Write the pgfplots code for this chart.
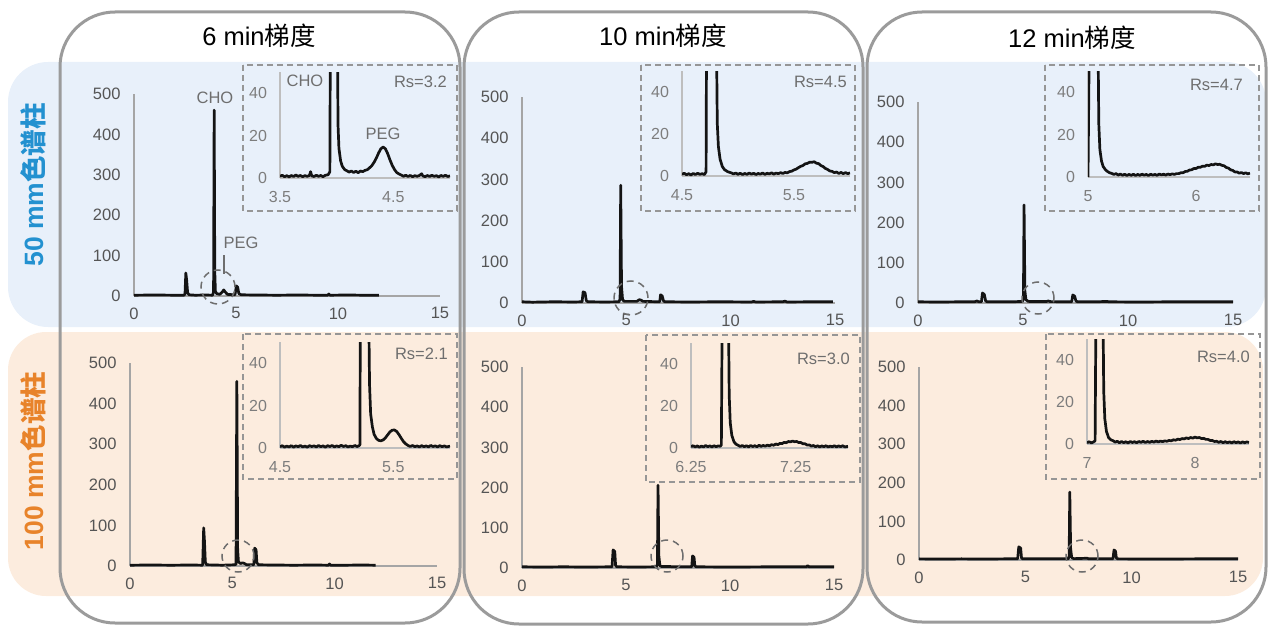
\documentclass[border=0pt]{standalone}
\usepackage{fontspec}
\setmainfont{Liberation Sans}
\newfontfamily\cjk{Noto Sans CJK SC}
\usepackage{pgfplots}
\pgfplotsset{compat=1.18}
\definecolor{bandblue}{RGB}{232,240,250}
\definecolor{bandorange}{RGB}{252,236,222}
\definecolor{panelgray}{RGB}{155,155,155}
\definecolor{rowblue}{RGB}{35,145,208}
\definecolor{roworange}{RGB}{232,131,42}
\definecolor{trace}{RGB}{20,20,20}
\definecolor{mainaxis}{RGB}{165,165,165}
\definecolor{inaxis}{RGB}{190,190,190}
\definecolor{maintick}{RGB}{85,85,85}
\definecolor{intick}{RGB}{125,125,125}
\definecolor{boxgray}{RGB}{150,150,150}
\definecolor{lbl}{RGB}{110,110,110}
\pgfplotsset{
  base/.style={scale only axis, anchor=south west, axis lines=left,
    enlargelimits=false, major tick length=0pt,
    /pgf/number format/assume math mode=true,
    cycle list={{trace, line width=2.7pt, line join=round, mark=none}},
  },
  mainax/.style={base, clip=false, xmin=0,xmax=15,ymin=0,ymax=500,
    xtick={0,5,10,15}, ytick={0,100,200,300,400,500},
    axis line style={draw=mainaxis, line width=1.3pt, -},
    tick label style={font=\fontsize{16.5}{18}\selectfont, text=maintick},
    x tick label style={yshift=-8pt}, y tick label style={xshift=-10pt}},
  inax/.style={base, ymin=0,ymax=50, ytick={0,20,40},
    axis line style={draw=inaxis, line width=1.2pt, -},
    tick label style={font=\fontsize{16}{18}\selectfont, text=intick},
    x tick label style={yshift=-9.5pt}, y tick label style={xshift=-9.5pt}},
}
\tikzset{
  circ/.style={draw=lbl, line width=1.5pt, dash pattern=on 7pt off 5pt},
  dbox/.style={draw=boxgray, line width=1.8pt, dash pattern=on 6pt off 4pt},
  rs/.style={inner sep=0pt, anchor=east, text=lbl, font=\fontsize{16.5}{18}\selectfont},
  lab/.style={inner sep=0pt, text=lbl, font=\fontsize{16.5}{18}\selectfont},
  tr/.style={draw=trace, line width=2.7pt, line join=round, mark=none},
}
\begin{document}
\begin{tikzpicture}
\useasboundingbox (0,0) rectangle (1270pt,-626pt);
% bands
\fill[bandblue, rounded corners=40pt] (8pt,-62pt) rectangle (1266pt,-327pt);
\fill[bandorange, rounded corners=38pt] (8pt,-332pt) rectangle (1263pt,-596pt);
% panels
\draw[panelgray, line width=3pt, rounded corners=55pt] (60pt,-12pt) rectangle (460pt,-623pt);
\draw[panelgray, line width=3pt, rounded corners=55pt] (464pt,-12pt) rectangle (863pt,-624pt);
\draw[panelgray, line width=3pt, rounded corners=55pt] (867pt,-12pt) rectangle (1266pt,-622pt);
% titles
\node[font=\fontsize{25.5}{28}\selectfont] at (259pt,-36pt) {6 min{\cjk 梯度}};
\node[font=\fontsize{25.5}{28}\selectfont] at (663pt,-36pt) {10 min{\cjk 梯度}};
\node[font=\fontsize{25.5}{28}\selectfont] at (1072pt,-38pt) {12 min{\cjk 梯度}};
% row labels
\node[rotate=90, font=\fontsize{26.5}{30}\selectfont\bfseries, text=rowblue] at (33pt,-185pt) {50 mm{\cjk\bfseries 色谱柱}};
\node[rotate=90, font=\fontsize{26.5}{30}\selectfont\bfseries, text=roworange] at (33pt,-461pt) {100 mm{\cjk\bfseries 色谱柱}};
% inset boxes
\draw[dbox] (243pt,-65pt) rectangle (457pt,-211pt);
\draw[dbox] (243pt,-334pt) rectangle (457pt,-479pt);
\draw[dbox] (641pt,-65pt) rectangle (855pt,-211pt);
\draw[dbox] (646pt,-335pt) rectangle (860pt,-482pt);
\draw[dbox] (1045pt,-65pt) rectangle (1259pt,-211pt);
\draw[dbox] (1046pt,-334pt) rectangle (1260pt,-479pt);

% ===== P1 top: 6 min, 50 mm
\begin{axis}[mainax, at={(134pt,-296pt)}, width=306pt, height=202pt]
\addplot[tr] coordinates {(0,2) (1.0,2.5) (2.0,2) (2.45,2) (2.5,5) (2.54,57) (2.58,40) (2.63,8) (2.7,3) (3.0,2) (3.5,2.5) (3.85,2) (3.9,10) (3.93,460) (3.96,60) (3.99,12) (4.05,6) (4.2,4) (4.33,10) (4.4,15) (4.47,10) (4.58,4) (4.95,3) (5.02,25) (5.08,22) (5.14,6) (5.25,3) (6,2.5) (7,2) (8,2.5) (9,2) (9.5,2) (9.55,5) (9.6,2) (10.5,2.5) (11.2,2) (12,2)};
\end{axis}
% ===== P1 bottom: 6 min, 100 mm
\begin{axis}[mainax, at={(130pt,-566pt)}, width=307pt, height=203pt]
\addplot[tr] coordinates {(0,2) (1,2.5) (2,2) (3,2.5) (3.55,2) (3.6,94) (3.64,60) (3.68,10) (3.74,3) (4.5,2) (5.1,3) (5.18,4) (5.22,455) (5.26,40) (5.3,10) (5.4,6) (5.5,8) (5.6,6) (5.7,3) (6.05,3) (6.09,44) (6.16,40) (6.2,8) (6.28,3) (7,2.5) (8,2) (9,2.5) (9.7,2) (9.75,5) (9.8,2) (10.5,2) (11.3,2.5) (12,2)};
\end{axis}
% ===== P2 top
\begin{axis}[mainax, at={(522pt,-303pt)}, width=313pt, height=206pt]
\addplot[tr] coordinates {(0,3)(0.5,2)(1.5,3)(2.5,2.5)(2.88,3)(2.93,27)(3.02,25)(3.08,6)(3.15,3)(4,2.5)(4.65,3)(4.7,10)(4.73,286)(4.77,40)(4.82,8)(4.9,4)(5.5,4)(5.62,8)(5.7,7)(5.8,4)(6.5,3)(6.6,3)(6.64,20)(6.72,17)(6.78,5)(6.85,3)(8,2.5)(9.5,3)(11,2.5)(11.1,4)(11.2,2.5)(12.5,3)(12.6,4.5)(12.7,2.5)(14,3)(14.9,3)};
\end{axis}
% ===== P2 bottom
\begin{axis}[mainax, at={(522pt,-568pt)}, width=312pt, height=201pt]
\addplot[tr] coordinates {(0,3)(1,2.5)(2,3)(3,2.5)(4.33,3)(4.38,45)(4.46,41)(4.5,6)(4.56,3)(5.5,2.5)(6.47,3)(6.51,10)(6.54,206)(6.58,30)(6.63,6)(6.72,3.5)(7.1,4)(7.2,3)(8.16,3)(8.2,30)(8.27,27)(8.31,5)(8.38,3)(10,2.5)(12,3)(13.68,3)(13.73,6)(13.8,3)(15,3)};
\end{axis}
% ===== P3 top
\begin{axis}[mainax, at={(918pt,-303pt)}, width=315pt, height=201pt]
\addplot[tr] coordinates {(0,3)(1,2.5)(2,3)(2.7,3)(2.8,5)(2.9,3)(3.02,3)(3.07,25)(3.16,21)(3.22,5)(3.3,3)(4.5,3)(4.98,4)(5.02,10)(5.05,244)(5.09,30)(5.14,8)(5.25,4)(6.1,3.5)(6.2,5)(6.3,3.5)(7.32,3)(7.37,20)(7.46,17)(7.52,5)(7.6,3)(8.5,3)(9,4)(9.1,3)(10.5,2.5)(12,3)(13.5,3)(15,3)};
\end{axis}
% ===== P3 bottom
\begin{axis}[mainax, at={(919pt,-560pt)}, width=319pt, height=193pt]
\addplot[tr] coordinates {(0,3)(1,2.5)(2,3)(3,2.5)(4,3)(4.64,3)(4.69,34)(4.78,31)(4.82,5)(4.88,3)(6,3)(7.02,3)(7.06,10)(7.09,176)(7.13,30)(7.18,6)(7.28,3.5)(7.9,4.5)(8.0,3)(9.12,3)(9.17,26)(9.24,23)(9.28,5)(9.35,3)(11,2.5)(13,3)(15,3)};
\end{axis}

% ===== Insets
\begin{axis}[inax, at={(280pt,-178pt)}, width=170pt, height=106pt, xmin=3.5, xmax=5.0, xtick={3.5,4.5}, xticklabels={3.5,4.5}]
\addplot[tr] coordinates {(3.50,0.8)(3.52,1.3)(3.54,0.6)(3.56,1.1)(3.58,0.5)(3.60,1.2)(3.62,0.7)(3.64,1.4)(3.66,0.8)(3.68,1.2)(3.70,0.6)(3.72,1.1)(3.74,0.8)(3.76,1.2)(3.77,3.0)(3.78,1.0)(3.80,0.7)(3.82,1.3)(3.84,0.8)(3.86,1.2)(3.88,0.6)(3.90,1.3)(3.925,1.5)(3.94,3)(3.945,80)(4.005,80)(4.012,25)(4.02,14)(4.035,8)(4.05,5.5)(4.07,4)(4.09,3.4)(4.11,2.8)(4.13,3.3)(4.15,2.6)(4.17,3.2)(4.19,2.5)(4.21,3.3)(4.23,3.0)(4.25,3.6)(4.27,3.9)(4.29,4.8)(4.31,5.8)(4.33,7.4)(4.35,9.4)(4.37,11.8)(4.39,13.8)(4.41,14.6)(4.43,13.8)(4.45,11.5)(4.47,8.6)(4.49,6.0)(4.51,4.0)(4.53,2.6)(4.55,1.9)(4.57,1.4)(4.59,0.8)(4.61,1.3)(4.63,0.7)(4.65,1.2)(4.67,0.6)(4.69,1.1)(4.71,0.8)(4.73,1.2)(4.75,2.0)(4.76,1.0)(4.78,0.6)(4.80,1.2)(4.82,0.7)(4.84,1.3)(4.86,0.8)(4.88,1.1)(4.90,0.5)(4.92,1.2)(4.94,0.8)(4.96,1.3)(4.98,0.7)(5.00,1.0)};
\end{axis}
\begin{axis}[inax, at={(280pt,-448pt)}, width=170pt, height=106pt, xmin=4.5, xmax=6.0, xtick={4.5,5.5}, xticklabels={4.5,5.5}]
\addplot[tr] coordinates {(4.50,0.6)(4.52,1.1)(4.54,0.4)(4.56,0.9)(4.58,0.5)(4.60,1.1)(4.62,0.4)(4.64,1.0)(4.66,0.6)(4.68,1.2)(4.70,0.5)(4.72,0.9)(4.74,0.4)(4.76,1.1)(4.78,0.7)(4.80,1.0)(4.82,0.5)(4.84,1.2)(4.86,0.6)(4.88,1.0)(4.90,0.4)(4.92,1.1)(4.94,0.7)(4.96,1.2)(4.98,0.5)(5.00,1.0)(5.02,0.6)(5.04,1.3)(5.06,0.7)(5.08,1.1)(5.10,0.5)(5.12,0.9)(5.14,0.6)(5.16,1.2)(5.18,0.7)(5.195,1.0)(5.205,1.5)(5.21,80)(5.28,80)(5.29,30)(5.30,16)(5.315,10)(5.33,6.5)(5.35,4.5)(5.37,3.6)(5.39,3.4)(5.41,3.8)(5.43,4.8)(5.45,6.2)(5.47,7.6)(5.49,8.4)(5.51,8.5)(5.53,7.8)(5.55,6.3)(5.57,4.6)(5.59,3.0)(5.61,1.9)(5.63,1.2)(5.65,0.7)(5.67,1.2)(5.69,0.6)(5.71,1.0)(5.73,0.5)(5.75,1.1)(5.77,0.6)(5.79,1.0)(5.81,0.5)(5.83,1.2)(5.85,0.7)(5.87,1.0)(5.89,0.5)(5.91,1.1)(5.93,0.6)(5.95,1.0)(5.97,0.5)(6.00,0.9)};
\end{axis}
\begin{axis}[inax, at={(682pt,-176pt)}, width=168pt, height=105pt, xmin=4.5, xmax=6.0, xtick={4.5,5.5}, xticklabels={4.5,5.5}]
\addplot[tr] coordinates {(4.50,0.8)(4.52,1.3)(4.54,0.6)(4.56,1.1)(4.58,0.5)(4.60,1.2)(4.62,0.7)(4.64,1.3)(4.66,0.8)(4.68,1.1)(4.70,0.7)(4.715,2)(4.72,80)(4.805,80)(4.815,25)(4.825,14)(4.84,8)(4.86,4.5)(4.88,3)(4.91,2)(4.94,1.5)(4.96,1.0)(4.98,1.4)(5.00,0.8)(5.02,1.3)(5.04,0.7)(5.06,1.2)(5.08,0.8)(5.10,1.4)(5.12,0.9)(5.14,1.3)(5.16,0.7)(5.18,1.2)(5.20,0.9)(5.22,1.4)(5.24,0.8)(5.26,1.3)(5.28,1.0)(5.30,1.5)(5.32,0.9)(5.34,1.4)(5.36,1.1)(5.38,1.6)(5.40,1.2)(5.42,1.7)(5.44,1.5)(5.46,2.1)(5.48,2.3)(5.50,2.9)(5.52,3.3)(5.54,4.0)(5.56,4.6)(5.58,5.0)(5.60,5.8)(5.62,6.0)(5.64,6.6)(5.66,6.5)(5.68,6.8)(5.70,6.1)(5.72,5.9)(5.74,5.0)(5.76,4.5)(5.78,3.6)(5.80,3.1)(5.82,2.4)(5.84,2.2)(5.86,1.6)(5.88,1.9)(5.90,1.2)(5.92,1.7)(5.94,1.1)(5.96,1.6)(5.98,1.1)(6.00,1.5)};
\end{axis}
\begin{axis}[inax, at={(691pt,-448pt)}, width=157pt, height=105pt, xmin=6.25, xmax=7.75, xtick={6.25,7.25}, xticklabels={6.25,7.25}]
\addplot[tr] coordinates {(6.25,0.6)(6.27,1.1)(6.29,0.5)(6.31,1.0)(6.33,0.4)(6.35,0.9)(6.37,0.5)(6.39,1.2)(6.41,0.6)(6.43,1.0)(6.45,0.5)(6.47,1.1)(6.49,0.6)(6.51,1.0)(6.53,0.8)(6.54,1.5)(6.55,80)(6.605,80)(6.615,25)(6.625,12)(6.64,6)(6.66,3)(6.68,1.8)(6.70,1.3)(6.72,0.7)(6.74,1.2)(6.76,0.6)(6.78,1.1)(6.80,0.5)(6.82,1.2)(6.84,0.7)(6.86,1.1)(6.88,0.6)(6.90,1.3)(6.92,0.8)(6.94,1.2)(6.96,0.9)(6.98,1.4)(7.00,1.0)(7.02,1.6)(7.04,1.3)(7.06,1.9)(7.08,1.6)(7.10,2.2)(7.12,2.1)(7.14,2.7)(7.16,2.5)(7.18,3.1)(7.20,2.9)(7.22,3.3)(7.24,3.0)(7.26,3.1)(7.28,2.6)(7.30,2.6)(7.32,2.0)(7.34,2.0)(7.36,1.4)(7.38,1.5)(7.40,0.9)(7.42,1.2)(7.44,0.6)(7.46,1.1)(7.48,0.5)(7.50,1.0)(7.52,0.6)(7.54,1.1)(7.56,0.5)(7.58,0.9)(7.60,0.6)(7.62,1.1)(7.64,0.5)(7.66,1.0)(7.68,0.6)(7.70,1.1)(7.72,0.5)(7.75,0.8)};
\end{axis}
\begin{axis}[inax, at={(1088pt,-177pt)}, width=162pt, height=106pt, xmin=5, xmax=6.5, xtick={5,6}, xticklabels={5,6}]
\addplot[tr] coordinates {(5.00,0)(5.015,80)(5.09,80)(5.10,25)(5.11,13)(5.125,7.5)(5.14,5)(5.16,3.5)(5.18,2.6)(5.20,2.0)(5.22,1.7)(5.24,1.2)(5.26,1.6)(5.28,0.9)(5.30,1.4)(5.32,0.8)(5.34,1.3)(5.36,0.7)(5.38,1.2)(5.40,0.8)(5.42,1.3)(5.44,0.7)(5.46,1.2)(5.48,0.8)(5.50,1.3)(5.52,0.9)(5.54,1.2)(5.56,0.7)(5.58,1.3)(5.60,0.9)(5.62,1.2)(5.64,0.8)(5.66,1.4)(5.68,1.0)(5.70,1.3)(5.72,0.9)(5.74,1.4)(5.76,1.1)(5.78,1.5)(5.80,1.2)(5.82,1.6)(5.84,1.6)(5.86,2.0)(5.88,2.0)(5.90,2.6)(5.92,2.7)(5.94,3.3)(5.96,3.4)(5.98,4.0)(6.00,4.0)(6.02,4.6)(6.04,4.6)(6.06,5.1)(6.08,5.0)(6.10,5.6)(6.12,5.4)(6.14,5.9)(6.16,5.7)(6.18,6.2)(6.20,5.9)(6.22,6.0)(6.24,5.5)(6.26,5.3)(6.28,4.5)(6.30,4.2)(6.32,3.4)(6.34,3.1)(6.36,2.4)(6.38,2.4)(6.40,1.8)(6.42,2.1)(6.44,1.6)(6.46,2.0)(6.48,1.5)(6.50,1.8)};
\end{axis}
\begin{axis}[inax, at={(1087pt,-444pt)}, width=162pt, height=105pt, xmin=7, xmax=8.5, xtick={7,8}, xticklabels={7,8}]
\addplot[tr] coordinates {(7.00,0.6)(7.02,1.1)(7.04,0.5)(7.06,1.0)(7.075,1.5)(7.085,80)(7.145,80)(7.155,25)(7.165,12)(7.18,6)(7.20,3)(7.22,2.0)(7.24,1.6)(7.26,0.9)(7.28,1.3)(7.30,0.6)(7.32,1.2)(7.34,0.6)(7.36,1.1)(7.38,0.5)(7.40,1.2)(7.42,0.7)(7.44,1.1)(7.46,0.6)(7.48,1.2)(7.50,0.8)(7.52,1.3)(7.54,0.7)(7.56,1.2)(7.58,0.8)(7.60,1.3)(7.62,0.9)(7.64,1.4)(7.66,1.0)(7.68,1.4)(7.70,1.1)(7.72,1.5)(7.74,1.3)(7.76,1.7)(7.78,1.5)(7.80,2.0)(7.82,1.8)(7.84,2.3)(7.86,2.1)(7.88,2.6)(7.90,2.4)(7.92,2.9)(7.94,2.6)(7.96,3.1)(7.98,2.8)(8.00,3.3)(8.02,2.9)(8.04,3.1)(8.06,2.6)(8.08,2.7)(8.10,2.2)(8.12,2.2)(8.14,1.7)(8.16,1.7)(8.18,1.2)(8.20,1.3)(8.22,0.8)(8.24,1.2)(8.26,0.6)(8.28,1.1)(8.30,0.6)(8.32,1.0)(8.34,0.5)(8.36,1.1)(8.38,0.6)(8.40,1.0)(8.42,0.5)(8.44,1.0)(8.46,0.6)(8.48,1.0)(8.50,0.7)};
\end{axis}

% annotations
\draw[circ] (218pt,-287pt) circle[radius=17pt];
\draw[circ] (238pt,-556pt) circle[radius=16pt];
\draw[circ] (631pt,-298pt) circle[radius=17pt];
\draw[circ] (667pt,-556pt) circle[radius=16pt];
\draw[circ] (1038pt,-298pt) circle[radius=16pt];
\draw[circ] (1082pt,-556pt) circle[radius=16pt];
\node[lab] at (215pt,-98pt) {CHO};
\node[lab] at (241pt,-243pt) {PEG};
\draw[lbl, line width=1.2pt] (224pt,-255pt) -- (224pt,-274pt);
\node[lab] at (305pt,-81pt) {CHO};
\node[lab] at (383pt,-134pt) {PEG};
\node[rs] at (447pt,-82pt) {Rs=3.2};
\node[rs] at (448pt,-354pt) {Rs=2.1};
\node[rs] at (847pt,-82pt) {Rs=4.5};
\node[rs] at (850pt,-359pt) {Rs=3.0};
\node[rs] at (1243pt,-85pt) {Rs=4.7};
\node[rs] at (1250pt,-357pt) {Rs=4.0};
\end{tikzpicture}
\end{document}
